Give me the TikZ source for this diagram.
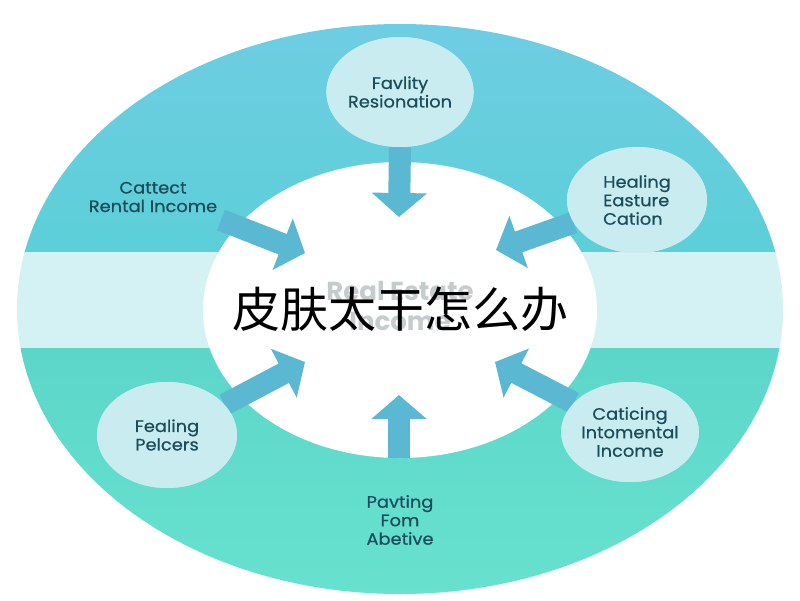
\documentclass[tikz,border=0pt]{standalone}
\usepackage{fontspec}
\setmainfont{Poppins}
\newfontfamily\lblfont{Poppins}[FakeBold=0.6,FakeStretch=1.08]
\newfontfamily\cjk{Noto Sans CJK SC}
\usetikzlibrary{arrows.meta,shapes.geometric}
\definecolor{topA}{HTML}{6FCDE3}
\definecolor{topB}{HTML}{5CCFD8}
\definecolor{bandc}{HTML}{D4F1F3}
\definecolor{botA}{HTML}{5CD6C9}
\definecolor{botB}{HTML}{68E2CF}
\definecolor{circc}{HTML}{C8ECF0}
\definecolor{arrowc}{HTML}{5AB8D3}
\definecolor{txtc}{HTML}{1B4C59}
\definecolor{faint}{HTML}{C6CBCD}
\tikzset{
  bubble/.style={ellipse, fill=circc, minimum width=140pt, minimum height=106pt, inner sep=0pt,
    font=\lblfont\fontsize{16.5}{18.5}\selectfont, text=txtc, align=center},
  lbl/.style={font=\lblfont\fontsize{16.5}{18.5}\selectfont, text=txtc, align=center, inner sep=0pt},
  arr/.style={draw=arrowc, line width=22pt, -{Triangle[width=54pt,length=24pt]}}
}
\begin{document}
\begin{tikzpicture}[x=1pt,y=-1pt]
\useasboundingbox (0,0) rectangle (800,600);
\fill[white] (0,0) rectangle (800,600);
\begin{scope}
  \clip (400,309) ellipse [x radius=383, y radius=285];
  \shade[top color=topA, bottom color=topB] (0,20) rectangle (800,252);
  \fill[bandc] (0,252) rectangle (800,348);
  \shade[top color=botA, bottom color=botB] (0,348) rectangle (800,600);
\end{scope}
\fill[white] (400,310) ellipse [x radius=197, y radius=148];
% faint background title
\node[font=\bfseries\fontsize{26}{30}\selectfont, text=faint, align=center] (faintt) at (400,306) {Real Estate\\Income};
% central title
\node[font=\cjk\fontsize{48}{50}\selectfont, text=black] (title) at (400,309) {皮肤太干怎么办};
% bubbles
\node[bubble, minimum height=110pt] (ctop) at (400,92) {Favlity\\Resionation};
\node[bubble, align=left] (crt) at (637,200) {Healing\\Easture\\Cation};
\node[bubble] (clb) at (167,435) {Fealing\\Pelcers};
\node[bubble, minimum width=136pt, minimum height=100pt] (crb) at (630,432) {Caticing\\Intomental\\Income};
% plain labels
\node[lbl] (ltl) at (153,197) {Cattect\\Rental Income};
\node[lbl] (lbot) at (400,520) {Pavting\\Fom\\Abetive};
% arrow coordinates
\coordinate (ttop) at (399,217);
\coordinate (tbot) at (399,395);
\coordinate (bstart) at (399,458);
\coordinate (tlstart) at (221,220);
\coordinate (ttl) at (305,253);
\coordinate (ttr) at (496,250);
\coordinate (tlb) at (305,362);
\coordinate (trb) at (495,362);
% arrows
\draw[arr] (ctop.south) -- (ttop);
\draw[arr] (bstart) -- (tbot);
\draw[arr] (tlstart) -- (ttl);
\draw[arr] (crt) -- (ttr);
\draw[arr] (clb) -- (tlb);
\draw[arr] (crb) -- (trb);
% redraw bubbles on top of arrow tails
\node[bubble, minimum height=110pt] at (ctop) {Favlity\\Resionation};
\node[bubble, align=left] at (crt) {Healing\\Easture\\Cation};
\node[bubble] at (clb) {Fealing\\Pelcers};
\node[bubble, minimum width=136pt, minimum height=100pt] at (crb) {Caticing\\Intomental\\Income};
\end{tikzpicture}
\end{document}
